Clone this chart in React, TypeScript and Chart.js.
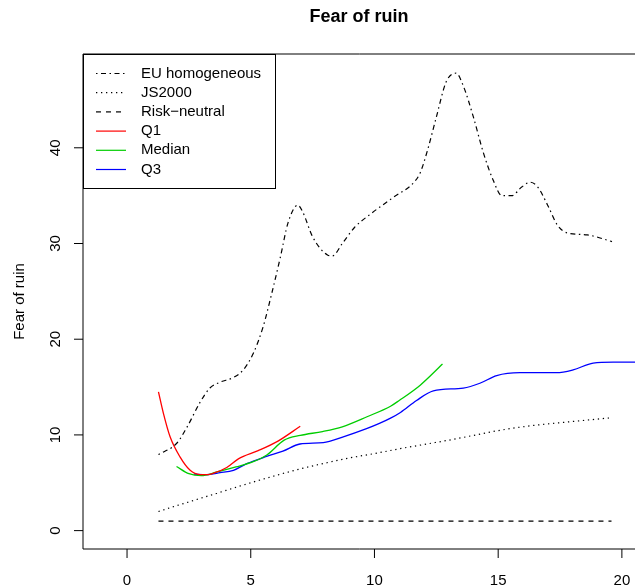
import React, { useEffect, useRef } from "react";
import { Chart, registerables } from "chart.js";

Chart.register(...registerables);

const FONT = '"Liberation Sans", Arial, Helvetica, sans-serif';

const chartTitle = "Fear of ruin";
const yAxisTitle = "Fear of ruin";
const xTicks = [0, 5, 10, 15, 20];
const yTicks = [0, 10, 20, 30, 40];

const seriesLabels = ["EU homogeneous", "JS2000", "Risk\u2212neutral", "Q1", "Median", "Q3"];

const euX = [1.27, 2.0, 2.4, 2.95, 3.35, 3.75, 4.3, 4.7, 5.1, 5.5, 5.85, 6.2, 6.5, 6.9, 7.1, 7.5, 8.1, 8.3, 8.7, 9.2, 9.8, 10.75, 11.6, 11.85, 12.15, 12.5, 12.9, 13.3, 13.6, 14.0, 14.4, 14.8, 15.15, 15.55, 15.95, 16.3, 16.6, 17.0, 17.4, 17.8, 18.6, 19.6];
const euY = [7.96, 9.1, 10.7, 13.4, 14.9, 15.5, 16.0, 16.8, 18.5, 21.3, 24.8, 28.6, 32.1, 34.0, 33.3, 30.7, 28.8, 28.7, 30.0, 31.7, 33.0, 34.8, 36.4, 37.4, 39.8, 43.2, 46.9, 47.8, 46.4, 43.2, 39.5, 36.6, 35.0, 35.0, 35.9, 36.4, 35.9, 34.0, 31.9, 31.1, 30.9, 30.2];

const jsX = [1.27, 2, 3, 4, 5, 6, 7, 8, 9, 10, 11, 12, 13, 14, 15, 16, 17, 18, 19, 19.6];
const jsY = [2.0, 2.6, 3.4, 4.2, 5.0, 5.75, 6.45, 7.05, 7.6, 8.05, 8.55, 9.0, 9.45, 9.95, 10.45, 10.85, 11.15, 11.4, 11.65, 11.8];

const rnX = [1.27, 19.58];
const rnY = [1, 1];

const q1X = [1.27, 1.47, 1.74, 2.14, 2.55, 2.95, 3.25, 3.5, 4.03, 4.5, 5.3, 6.1, 7.0];
const q1Y = [14.5, 12.25, 9.8, 7.7, 6.3, 5.86, 5.85, 6.0, 6.6, 7.5, 8.35, 9.35, 10.9];

const medX = [2.0, 2.5, 3.0, 3.6, 4.4, 5.1, 5.65, 6.35, 7.0, 7.9, 8.7, 9.7, 10.65, 11.0, 11.85, 12.75];
const medY = [6.7, 5.95, 5.75, 6.1, 6.65, 7.2, 7.9, 9.45, 9.95, 10.35, 10.85, 11.9, 13.0, 13.6, 15.2, 17.4];

const q3X = [2.7, 3.2, 3.76, 4.3, 4.84, 5.64, 6.3, 6.99, 7.93, 8.74, 9.68, 10.2, 10.65, 11.05, 11.7, 12.38, 13.59, 14.26, 14.94, 15.88, 17.36, 18.03, 18.84, 19.65, 21];
const q3Y = [5.9, 5.86, 6.05, 6.3, 7.0, 7.75, 8.3, 9.05, 9.2, 9.8, 10.65, 11.2, 11.75, 12.35, 13.6, 14.6, 14.9, 15.4, 16.2, 16.5, 16.5, 16.8, 17.5, 17.6, 17.6];

const seriesColors = ["#000000", "#000000", "#000000", "#FF0000", "#00CD00", "#0000FF"];
const seriesDashes: number[][] = [[1.5, 3.5, 5, 3.5], [1.3, 3.7], [5, 5], [], [], []];

const pts = (xs: number[], ys: number[]) => xs.map((x, i) => ({ x, y: ys[i] }));

const frameAndAxes = {
  id: "frameAndAxes",
  afterDraw(chart: any) {
    const { ctx, chartArea } = chart;
    const sx = chart.scales.x;
    const sy = chart.scales.y;
    ctx.save();
    ctx.strokeStyle = "#000";
    ctx.fillStyle = "#000";
    ctx.lineWidth = 1;
    // box
    ctx.beginPath();
    ctx.moveTo(chartArea.right + 5, chartArea.top);
    ctx.lineTo(chartArea.left, chartArea.top);
    ctx.lineTo(chartArea.left, chartArea.bottom);
    ctx.lineTo(chartArea.right + 5, chartArea.bottom);
    ctx.stroke();
    // x ticks
    ctx.font = `15px ${FONT}`;
    ctx.textAlign = "center";
    ctx.textBaseline = "alphabetic";
    xTicks.forEach((v) => {
      const px = sx.getPixelForValue(v);
      ctx.beginPath();
      ctx.moveTo(px, chartArea.bottom);
      ctx.lineTo(px, chartArea.bottom + 9);
      ctx.stroke();
      ctx.fillText(String(v), px, 584.5);
    });
    // y ticks
    yTicks.forEach((v) => {
      const py = sy.getPixelForValue(v);
      ctx.beginPath();
      ctx.moveTo(chartArea.left, py);
      ctx.lineTo(chartArea.left - 9, py);
      ctx.stroke();
      ctx.save();
      ctx.translate(60, py);
      ctx.rotate(-Math.PI / 2);
      ctx.fillText(String(v), 0, 0);
      ctx.restore();
    });
    // y title
    ctx.save();
    ctx.translate(24, (chartArea.top + chartArea.bottom) / 2);
    ctx.rotate(-Math.PI / 2);
    ctx.fillText(yAxisTitle, 0, 0);
    ctx.restore();
    // main title
    ctx.font = `bold 18px ${FONT}`;
    ctx.fillText(chartTitle, (chartArea.left + chartArea.right) / 2, 21.5);
    // legend
    const lx = chartArea.left;
    const ly = chartArea.top;
    ctx.strokeRect(lx + 0.5, ly + 0.5, 192, 134);
    ctx.font = `15px ${FONT}`;
    ctx.textAlign = "left";
    ctx.textBaseline = "middle";
    chart.data.datasets.forEach((ds: any, i: number) => {
      const yy = ly + 19.5 + i * 19.2;
      ctx.save();
      ctx.strokeStyle = ds.borderColor;
      ctx.lineWidth = 1.2;
      ctx.setLineDash(ds.borderDash || []);
      ctx.beginPath();
      ctx.moveTo(lx + 13, yy);
      ctx.lineTo(lx + 43, yy);
      ctx.stroke();
      ctx.restore();
      ctx.fillText(ds.label, lx + 58, yy);
    });
    ctx.restore();
  },
};

export default function App() {
  const ref = useRef<HTMLCanvasElement | null>(null);
  useEffect(() => {
    if (!ref.current) return;
    const seriesData = [pts(euX, euY), pts(jsX, jsY), pts(rnX, rnY), pts(q1X, q1Y), pts(medX, medY), pts(q3X, q3Y)];
    const chart = new Chart(ref.current, {
      type: "line",
      data: {
        datasets: seriesData.map((d, i) => ({
          label: seriesLabels[i],
          data: d,
          borderColor: seriesColors[i],
          borderDash: seriesDashes[i],
          borderWidth: i < 3 ? 1.2 : 1.3,
          pointRadius: 0,
          fill: false,
          cubicInterpolationMode: "monotone" as const,
        })),
      },
      options: {
        responsive: false,
        animation: false,
        devicePixelRatio: 1,
        layout: { padding: { left: 83, right: 0, top: 54, bottom: 38 } },
        scales: {
          x: { type: "linear", min: -1.78, max: 20.53, display: false },
          y: { type: "linear", min: -1.92, max: 49.8, display: false },
        },
        plugins: {
          legend: { display: false },
          title: { display: false },
          tooltip: { enabled: false },
        },
      },
      plugins: [frameAndAxes],
    });
    return () => chart.destroy();
  }, []);
  return (
    <div style={{ position: "absolute", left: 0, top: 0, width: 635, height: 587, background: "#fff" }}>
      <canvas ref={ref} width={635} height={587} style={{ width: 635, height: 587, display: "block" }} />
    </div>
  );
}
